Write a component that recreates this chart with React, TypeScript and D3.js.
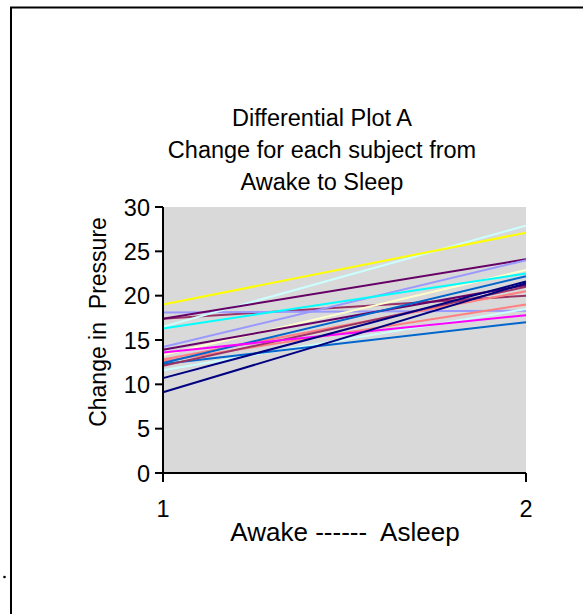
import React from "react";
import * as d3 from "d3";

// Two measurement occasions on the x axis
const occasions = [1, 2];
const yTicks = [0, 5, 10, 15, 20, 25, 30];

// Per-subject values: awake (x = 1) and asleep (x = 2)
const awake = [17.4, 18.1, 12.6, 11.6, 16.5, 17.4, 14.2, 13.3, 12.8, 12.3, 12.1, 13.9, 12.4, 16.3, 19.0, 13.6, 10.7, 9.1];
const asleep = [20.0, 18.3, 19.0, 18.5, 27.9, 24.1, 24.0, 22.9, 20.5, 17.0, 21.0, 21.2, 22.2, 22.5, 27.1, 17.8, 21.6, 21.4];
const seriesColors = [
  "#993366", "#9999FF", "#FF8080", "#CCFFFF", "#CCFFFF", "#660066", "#9999FF", "#FFFFCC",
  "#FF8080", "#0066CC", "#993366", "#660066", "#0066CC", "#00FFFF", "#FFFF00", "#FF00FF",
  "#000080", "#000080",
];

const titleLines = ["Differential Plot A", "Change for each subject from", "Awake to Sleep"];

export default function App() {
  const W = 583;
  const H = 614;
  const left = 163;
  const right = 526;
  const top = 207;
  const bottom = 473;

  const x = d3.scaleLinear().domain([1, 2]).range([left, right]);
  const y = d3.scaleLinear().domain([0, 30]).range([bottom, top]);
  const line = d3
    .line<[number, number]>()
    .x((d) => x(d[0]))
    .y((d) => y(d[1]));

  const font = "Arial, 'Liberation Sans', sans-serif";
  const fs = 23.5;
  const tickFs = 23.5;

  return (
    <svg
      width={W}
      height={H}
      style={{ position: "fixed", left: 0, top: 0, background: "#fff" }}
      fontFamily={font}
    >
      {/* outer frame */}
      <rect x={11} y={7.5} width={W + 20} height={H + 20} fill="none" stroke="#000" strokeWidth={2} />
      <circle cx={4.5} cy={577} r={1.3} fill="#000" />

      {/* title */}
      {titleLines.map((t, i) => (
        <text key={t} x={322} y={126 + i * 32.2} textAnchor="middle" fontSize={fs} fill="#000">
          {t}
        </text>
      ))}

      {/* plot area */}
      <rect x={left} y={top} width={right - left} height={bottom - top} fill="#D9D9D9" />

      {/* series */}
      <g fill="none" strokeWidth={2}>
        {awake.map((a, i) => (
          <path
            key={i}
            d={line([
              [occasions[0], a],
              [occasions[1], asleep[i]],
            ]) as string}
            stroke={seriesColors[i]}
          />
        ))}
      </g>

      {/* y axis */}
      <line x1={left} x2={left} y1={top} y2={bottom} stroke="#000" strokeWidth={2} />
      {yTicks.map((t) => (
        <g key={t}>
          <line x1={left - 8} x2={left} y1={y(t)} y2={y(t)} stroke="#000" strokeWidth={2} />
          <text x={left - 13} y={y(t) + 8.5} textAnchor="end" fontSize={tickFs} fill="#000">
            {t}
          </text>
        </g>
      ))}

      {/* x axis */}
      <line x1={left} x2={right} y1={bottom} y2={bottom} stroke="#000" strokeWidth={2} />
      {occasions.map((o) => (
        <g key={o}>
          <line x1={x(o)} x2={x(o)} y1={bottom} y2={bottom + 9} stroke="#000" strokeWidth={2} />
          <text x={x(o)} y={517} textAnchor="middle" fontSize={tickFs} fill="#000">
            {o}
          </text>
        </g>
      ))}

      {/* axis titles */}
      <text x={345} y={540.5} textAnchor="middle" fontSize={26} fill="#000" style={{ whiteSpace: "pre" }}>
        {"Awake ------  Asleep"}
      </text>
      <text
        transform={`translate(106, 322) rotate(-90)`}
        textAnchor="middle"
        fontSize={23}
        fill="#000"
        style={{ whiteSpace: "pre" }}
      >
        {"Change in  Pressure"}
      </text>
    </svg>
  );
}
